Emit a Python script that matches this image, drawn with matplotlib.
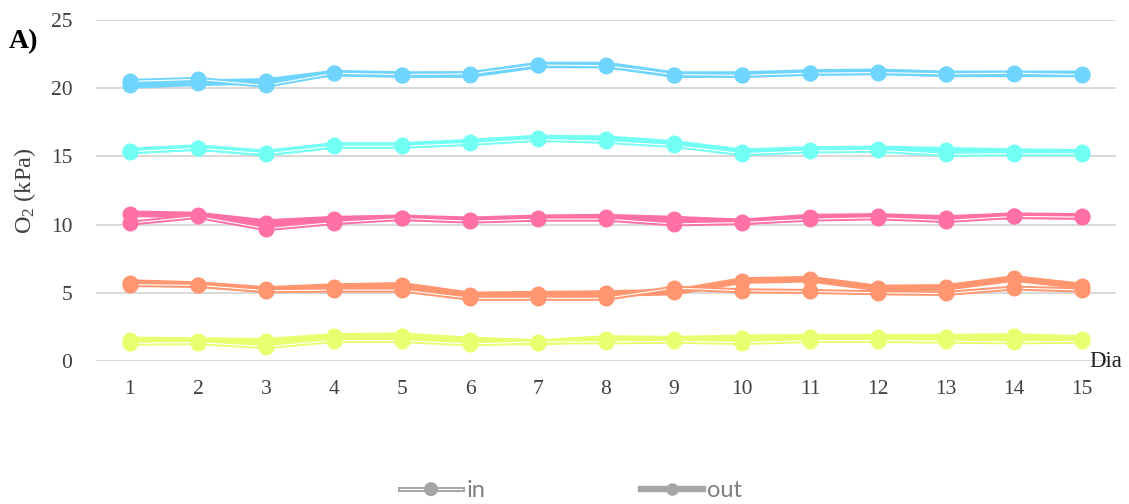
import matplotlib
matplotlib.use("Agg")
import matplotlib.pyplot as plt
import matplotlib.patheffects as pe
from matplotlib.lines import Line2D

days = list(range(1, 16))

# O2 partial pressure (kPa) per treatment, measured inside ("in") and outside ("out")
blue_out = [20.2, 20.4, 20.5, 21.1, 21.0, 21.0, 21.7, 21.7, 21.0, 21.0, 21.15, 21.2, 21.05, 21.05, 21.05]
blue_in = [20.5, 20.65, 20.2, 21.1, 21.0, 21.05, 21.7, 21.65, 21.0, 20.95, 21.1, 21.15, 21.05, 21.1, 21.0]
cyan_out = [15.4, 15.65, 15.25, 15.8, 15.8, 16.05, 16.35, 16.3, 15.95, 15.35, 15.5, 15.55, 15.45, 15.35, 15.3]
cyan_in = [15.35, 15.6, 15.2, 15.75, 15.75, 15.95, 16.25, 16.1, 15.8, 15.2, 15.4, 15.45, 15.15, 15.2, 15.2]
pink_out = [10.8, 10.7, 10.15, 10.4, 10.5, 10.35, 10.5, 10.55, 10.4, 10.2, 10.55, 10.6, 10.45, 10.65, 10.6]
pink_in = [10.1, 10.6, 9.7, 10.15, 10.45, 10.25, 10.4, 10.4, 10.05, 10.15, 10.4, 10.5, 10.3, 10.6, 10.55]
orange_out = [5.75, 5.6, 5.25, 5.45, 5.55, 4.85, 4.9, 4.95, 5.05, 5.9, 6.0, 5.35, 5.4, 6.05, 5.5]
orange_in = [5.6, 5.55, 5.15, 5.2, 5.2, 4.6, 4.6, 4.6, 5.35, 5.15, 5.1, 5.0, 4.95, 5.35, 5.2]
yellow_out = [1.55, 1.5, 1.45, 1.8, 1.85, 1.55, 1.35, 1.65, 1.6, 1.7, 1.75, 1.75, 1.75, 1.8, 1.65]
yellow_in = [1.3, 1.35, 1.05, 1.5, 1.5, 1.25, 1.4, 1.4, 1.45, 1.35, 1.5, 1.5, 1.45, 1.4, 1.45]

series = [
    ("#6fd4fe", blue_in, blue_out),
    ("#72fff4", cyan_in, cyan_out),
    ("#ff70a4", pink_in, pink_out),
    ("#ff9670", orange_in, orange_out),
    ("#e8ff70", yellow_in, yellow_out),
]

y_ticks = [0, 5, 10, 15, 20, 25]
tick_color = "#404040"
grid_color = "#d9d9d9"
serif = ["Liberation Serif", "DejaVu Serif"]

plt.rcParams["mathtext.fontset"] = "custom"
plt.rcParams["mathtext.rm"] = "Liberation Serif"
plt.rcParams["mathtext.it"] = "Liberation Serif:italic"

fig = plt.figure(figsize=(11.29, 5.04), dpi=100)
ax = fig.add_axes([0.085, 0.2837, 0.9035, 0.6766])


def in_effect(c):
    return [pe.Stroke(linewidth=3.6, foreground=c), pe.Normal()]


for color, vin, vout in series:
    ax.plot(days, vout, color=color, lw=4.8, solid_capstyle="round",
            solid_joinstyle="round", zorder=3)
    ax.plot(days, vout, ls="none", marker="o", ms=10.5, color=color, zorder=3)
    ax.plot(days, vin, color="white", lw=0.8, zorder=4,
            path_effects=in_effect(color))
    ax.plot(days, vin, ls="none", marker="o", ms=10.5, color=color, zorder=4)

ax.set_xlim(0.5, 15.5)
ax.set_ylim(0, 25)
ax.set_yticks(y_ticks)
ax.set_xticks(days)
ax.grid(axis="y", color=grid_color, lw=1.4)
ax.set_axisbelow(True)
for s in ax.spines.values():
    s.set_visible(False)
ax.tick_params(axis="both", length=0, labelsize=15.5, labelcolor=tick_color)
ax.tick_params(axis="x", pad=14)
ax.tick_params(axis="y", pad=17)
for lbl in ax.get_xticklabels() + ax.get_yticklabels():
    lbl.set_fontfamily(serif)

ax.set_ylabel("O$_2$ (kPa)", fontsize=17.5, color=tick_color, family=serif, labelpad=9)

ax.text(0.9735, 0.0, "Dia", transform=ax.transAxes, ha="left", va="center",
        fontsize=16.5, color="#202020", family=serif)
fig.text(0.008, 0.918, "A)", fontsize=20, fontweight="bold", color="black",
         family=serif, ha="left", va="center")

legend_grey = "#a6a6a6"
h_in = Line2D([0], [0], color="white", lw=0.8, marker="o", ms=6.5, mfc=legend_grey,
              mec=legend_grey,
              path_effects=[pe.Stroke(linewidth=3.6, foreground=legend_grey), pe.Normal()])
h_out = Line2D([0], [0], color=legend_grey, lw=4.6, marker="o", ms=8, mfc=legend_grey,
               mec=legend_grey)
fig.legend([h_in, h_out], ["in", "out"], loc="center", bbox_to_anchor=(0.506, 0.026),
           ncol=2, frameon=False, columnspacing=6.6, handlelength=2.6, handletextpad=0.2,
           prop={"family": ["Lato", "DejaVu Sans"], "size": 17},
           labelcolor="#7f7f7f")

fig.savefig("out.png", dpi=100)
